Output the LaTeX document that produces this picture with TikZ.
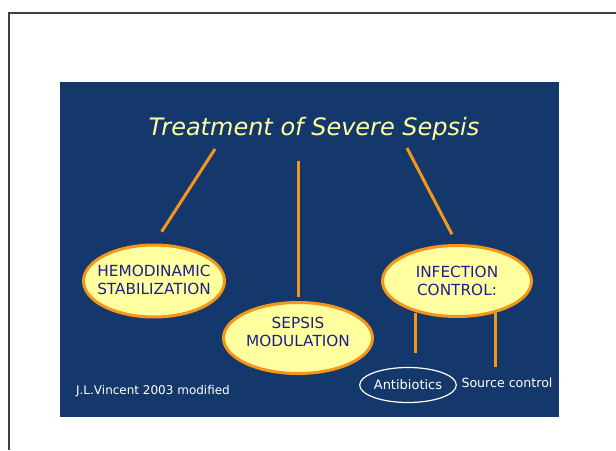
\documentclass[tikz,border=0pt]{standalone}
\usepackage{fontspec}
\setmainfont{DejaVu Sans}
\usetikzlibrary{shapes,calc}
\definecolor{slide}{RGB}{21,56,108}
\definecolor{pale}{RGB}{255,255,160}
\definecolor{amber}{RGB}{245,150,25}
\definecolor{ink}{RGB}{30,30,140}
\begin{document}
\begin{tikzpicture}[x=1pt,y=-1pt,
	bubble/.style 2 args={ellipse, draw=amber, line width=3pt, fill=pale, inner sep=0pt, minimum width=149, minimum height=71,
		label={[text=ink, align=center, yshift=#2, font=\fontsize{15.3}{17.5}\selectfont]center:#1}},
	link/.style={amber, line width=3pt},
	note/.style={text=white, inner sep=0pt, font=\fontsize{13}{15}\selectfont}]
	\useasboundingbox (0,0) rectangle (616,450);
	\draw[black!75, line width=1.2pt] (9,450) -- (9,13) -- (616,13);
	\fill[slide] (60,82) rectangle (559,417);
	\node[text=pale, font=\fontsize{24}{28}\selectfont\itshape] (title) at (314,129) {Treatment of Severe Sepsis};
	\node[bubble={HEMODINAMIC\\STABILIZATION}{1pt}, minimum width=141, minimum height=72] (hemo) at (154,281) {};
	\node[bubble={SEPSIS\\MODULATION}{6pt}] (sepsis) at (298,338) {};
	\node[bubble={INFECTION\\CONTROL:}{0pt}] (infect) at (457,281) {};
	\node[note, ellipse, draw=white, line width=1.2pt, minimum width=96, minimum height=35] (abx) at (408,385) {Antibiotics};
	\node[note, font=\fontsize{12.6}{15}\selectfont] (source) at (507,383) {Source control};
	\node[note, font=\fontsize{12}{14}\selectfont] (cite) at (153,391) {J.L.Vincent 2003 modified};
	\coordinate (t1) at (215,149);
	\coordinate (t2) at (298,161);
	\coordinate (t3) at (407,148);
	\draw[link, shorten >=14pt] (t1) -- (hemo.north);
	\draw[link, shorten >=4pt] (t2) -- (sepsis.north);
	\draw[link, shorten >=11pt] (t3) -- (infect.north);
	\coordinate (ic) at ([yshift=5pt]infect.south);
	\coordinate (s1) at (415,353);
	\coordinate (s2) at (495,367);
	\draw[link] (ic -| s1) -- (s1);
	\draw[link] (ic -| s2) -- (s2);
\end{tikzpicture}
\end{document}
